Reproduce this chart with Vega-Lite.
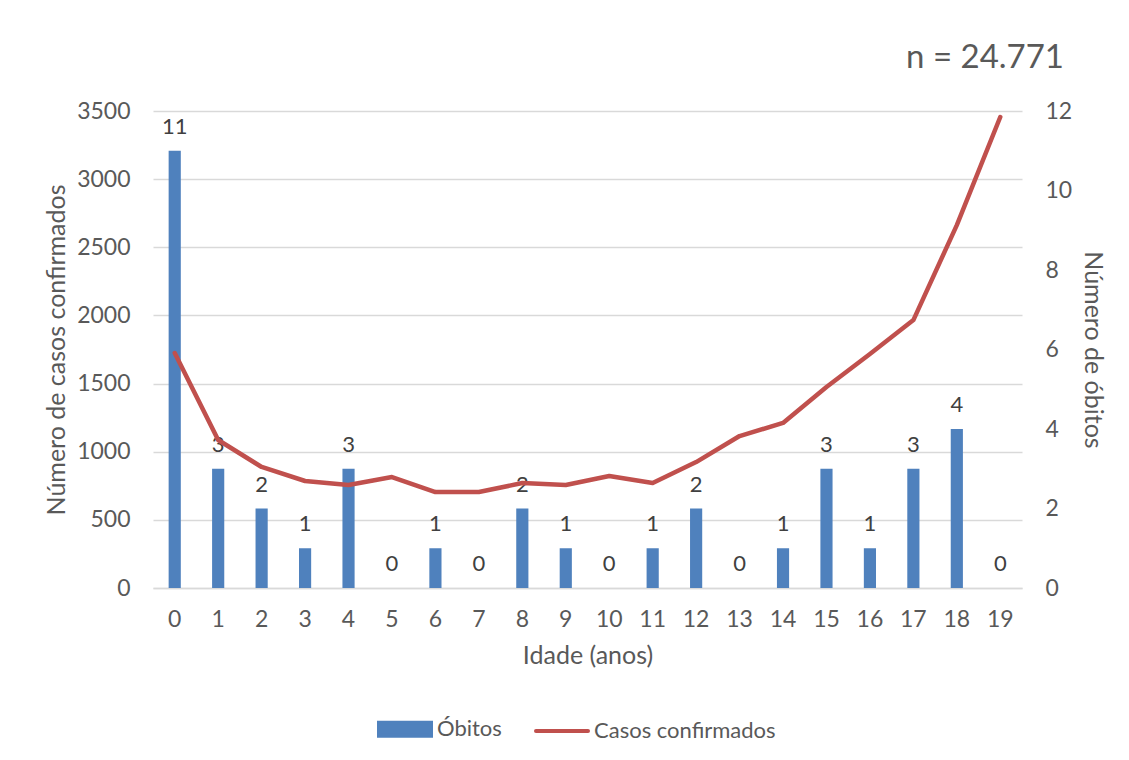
{
  "$schema": "https://vega.github.io/schema/vega-lite/v6.json",
  "width": 869,
  "height": 477,
  "autosize": {"type": "none"},
  "padding": {"left": 153, "top": 111, "right": 107, "bottom": 172},
  "background": "white",
  "title": {
    "text": "n = 24.771",
    "anchor": "end",
    "frame": "group",
    "dx": 42,
    "offset": 25,
    "fontSize": 33,
    "font": "Lato",
    "fontWeight": "normal",
    "color": "#595959"
  },
  "data": {
    "values": [
      {"idade": 0, "obitos": 11, "casos": 1724},
      {"idade": 1, "obitos": 3, "casos": 1086},
      {"idade": 2, "obitos": 2, "casos": 888},
      {"idade": 3, "obitos": 1, "casos": 785},
      {"idade": 4, "obitos": 3, "casos": 756},
      {"idade": 5, "obitos": 0, "casos": 814},
      {"idade": 6, "obitos": 1, "casos": 704},
      {"idade": 7, "obitos": 0, "casos": 704},
      {"idade": 8, "obitos": 2, "casos": 770},
      {"idade": 9, "obitos": 1, "casos": 756},
      {"idade": 10, "obitos": 0, "casos": 822},
      {"idade": 11, "obitos": 1, "casos": 770},
      {"idade": 12, "obitos": 2, "casos": 924},
      {"idade": 13, "obitos": 0, "casos": 1115},
      {"idade": 14, "obitos": 1, "casos": 1211},
      {"idade": 15, "obitos": 3, "casos": 1475},
      {"idade": 16, "obitos": 1, "casos": 1717},
      {"idade": 17, "obitos": 3, "casos": 1966},
      {"idade": 18, "obitos": 4, "casos": 2663},
      {"idade": 19, "obitos": 0, "casos": 3456}
    ]
  },
  "encoding": {
    "x": {
      "field": "idade",
      "type": "ordinal",
      "scale": {"paddingInner": 0, "paddingOuter": 0},
      "axis": {
        "title": "Idade (anos)",
        "labelAngle": 0,
        "ticks": false,
        "domain": true,
        "domainColor": "#D9D9D9",
        "domainWidth": 1.5,
        "labelPadding": 20,
        "titlePadding": 12
      }
    }
  },
  "layer": [
    {
      "layer": [
        {
          "mark": {"type": "bar", "width": {"band": 0.28}, "color": "#4F81BD"},
          "encoding": {
            "y": {
              "field": "obitos",
              "type": "quantitative",
              "scale": {"domain": [0, 12]},
              "axis": {
                "orient": "right",
                "title": "Número de óbitos",
                "values": [0, 2, 4, 6, 8, 10, 12],
                "format": "d",
                "grid": false,
                "ticks": false,
                "domain": false,
                "labelPadding": 23,
                "titlePadding": 8
              }
            },
            "color": {
              "datum": "Óbitos",
              "scale": {"domain": ["Óbitos", "Casos confirmados"], "range": ["#4F81BD", "#C0504D"]},
              "legend": {
                "title": null,
                "orient": "none",
                "direction": "horizontal",
                "legendX": 224,
                "legendY": 590,
                "symbolSize": 2704,
                "labelOffset": 4,
                "columnPadding": 26,
                "labelFontSize": 22,
                "labelFont": "Lato",
                "labelColor": "#595959",
                "labelLimit": 400,
                "symbolStrokeWidth": 4,
                "encode": {
                  "symbols": {
                    "update": {
                      "shape": {"signal": "datum.value === 'Óbitos' ? 'M-1,-0.25H1V0.25H-1Z' : 'M-1,0H1'"},
                      "fill": {"signal": "datum.value === 'Óbitos' ? '#4F81BD' : 'transparent'"},
                      "stroke": {"signal": "datum.value === 'Óbitos' ? 'transparent' : '#C0504D'"},
                      "strokeWidth": {"value": 4},
                      "strokeCap": {"value": "round"}
                    }
                  }
                }
              }
            }
          }
        },
        {
          "mark": {"type": "text", "baseline": "middle", "dy": -24, "fontSize": 22, "font": "Lato", "color": "#404040"},
          "encoding": {
            "y": {"field": "obitos", "type": "quantitative"},
            "text": {"field": "obitos", "type": "quantitative"}
          }
        }
      ]
    },
    {
      "mark": {"type": "line", "strokeWidth": 4.5, "strokeCap": "round", "strokeJoin": "round", "color": "#C0504D"},
      "encoding": {
        "y": {
          "field": "casos",
          "type": "quantitative",
          "scale": {"domain": [0, 3500]},
          "axis": {
            "orient": "left",
            "title": "Número de casos confirmados",
            "values": [0, 500, 1000, 1500, 2000, 2500, 3000, 3500],
            "format": "d",
            "grid": true,
            "gridColor": "#D9D9D9",
            "gridWidth": 1.5,
            "ticks": false,
            "domain": false,
            "labelPadding": 23,
            "titlePadding": 7
          }
        },
        "color": {"datum": "Casos confirmados"}
      }
    }
  ],
  "resolve": {"scale": {"y": "independent"}},
  "config": {
    "view": {"stroke": null},
    "font": "Lato",
    "axis": {
      "labelFont": "Lato",
      "titleFont": "Lato",
      "labelFontSize": 23,
      "titleFontSize": 25,
      "titleFontWeight": "normal",
      "labelColor": "#595959",
      "titleColor": "#595959"
    }
  }
}
